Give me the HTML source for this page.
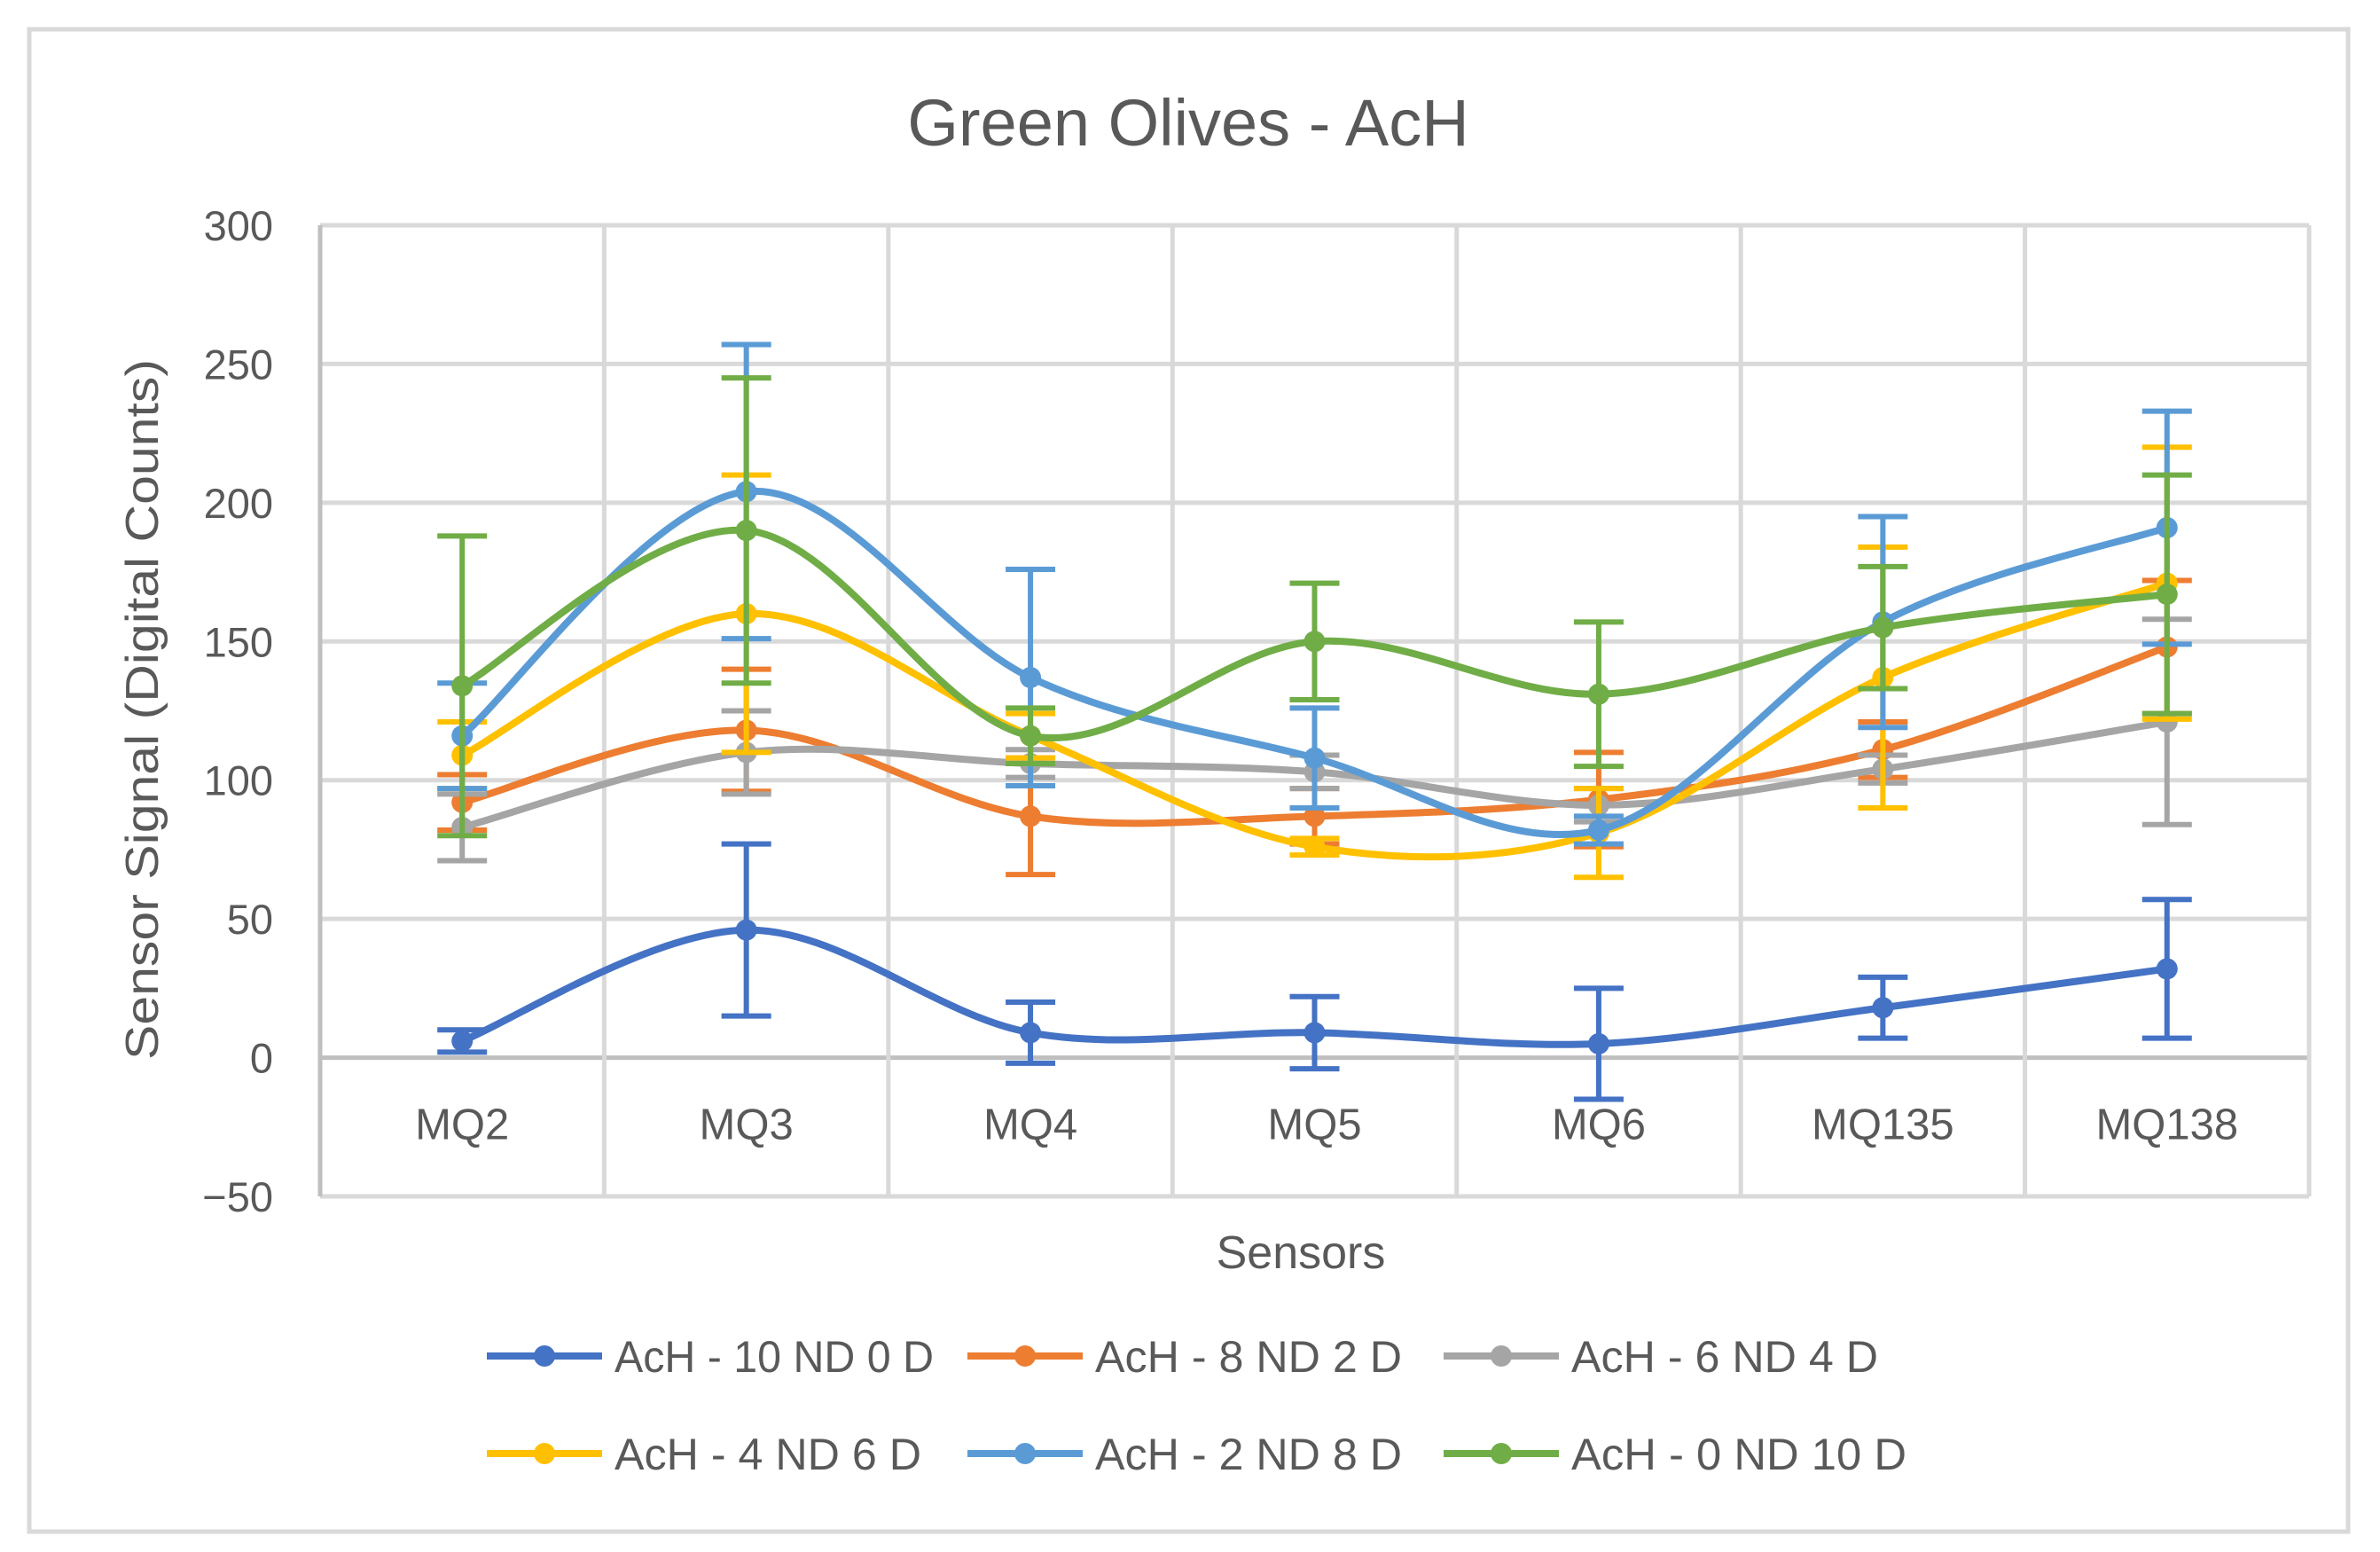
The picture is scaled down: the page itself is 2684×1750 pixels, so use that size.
<!DOCTYPE html>
<html><head><meta charset="utf-8"><style>
html,body{margin:0;padding:0;background:#fff;}
svg{display:block;font-family:"Liberation Sans",sans-serif;}
</style></head><body>
<svg id="chart" width="2684" height="1750" viewBox="0 0 2684 1750">
<rect x="33" y="33" width="2615" height="1694" fill="#fff" stroke="#d9d9d9" stroke-width="5"/>
<text x="1340" y="164" text-anchor="middle" font-size="74" fill="#595959">Green Olives - AcH</text>
<g id="grid"></g>
<g id="series"></g>
<text x="1467" y="1430" text-anchor="middle" font-size="52" fill="#595959">Sensors</text>
<text transform="translate(178,800) rotate(-90)" text-anchor="middle" font-size="52" fill="#595959" textLength="790" lengthAdjust="spacingAndGlyphs">Sensor Signal (Digital Counts)</text>
<g id="legend"></g>
</svg>
<script>
const categories=["MQ2","MQ3","MQ4","MQ5","MQ6","MQ135","MQ138"];
const yTicks=[-50,0,50,100,150,200,250,300];
const seriesNames=["AcH - 10 ND 0 D","AcH - 8 ND 2 D","AcH - 6 ND 4 D","AcH - 4 ND 6 D","AcH - 2 ND 8 D","AcH - 0 ND 10 D"];
const seriesColors=["#4472c4","#ed7d31","#a5a5a5","#ffc000","#5b9bd5","#70ad47"];
const s1=[6,46,9,9,5,18,32];
const s2=[92,118,87,87,93,111,148];
const s3=[83,110,106,103,91,104,121];
const s4=[109,160,116,76,81,137,171];
const s5=[116,204,137,108,82,157,191];
const s6=[134,190,116,150,131,155,167];
const e1=[4,31,11,13,20,11,25];
const e2=[10,22,21,10,17,10,24];
const e3=[12,15,5,6,6,5,37];
const e4=[12,50,8,3,16,47,49];
const e5=[19,53,39,18,5,38,42];
const e6=[54,55,10,21,26,22,43];
const seriesVals=[s1,s2,s3,s4,s5,s6];
const seriesErr=[e1,e2,e3,e4,e5,e6];

const NS="http://www.w3.org/2000/svg";
const L=361,R=2604,T=254,B=1349,yMin=-50,yMax=300;
const bw=(R-L)/categories.length;
function xs(i){return L+bw*(i+0.5);}
function ys(v){return B-(v-yMin)/(yMax-yMin)*(B-T);}
function mk(tag,attrs,parent){const e=document.createElementNS(NS,tag);for(const k in attrs)e.setAttribute(k,attrs[k]);parent.appendChild(e);return e;}
const grid=document.getElementById('grid'),ser=document.getElementById('series'),leg=document.getElementById('legend');
yTicks.forEach(t=>{
 const y=ys(t);
 const ln=mk('line',{x1:L,x2:R,y1:y,y2:y,stroke:t===0?'#bfbfbf':'#d9d9d9','stroke-width':5},grid);
 
 
 const tx=mk('text',{x:308,y:y+17,'text-anchor':'end','font-size':47,fill:'#595959'},grid);
 tx.textContent=(t<0?'\u2212'+(-t):t);
 
 
});
for(let i=0;i<=categories.length;i++){
 const x=L+bw*i;
 const ln=mk('line',{x1:x,x2:x,y1:T,y2:B,stroke:i===0?'#bfbfbf':'#d9d9d9','stroke-width':5},grid);
 
 
}
categories.forEach((c,i)=>{
 const tx=mk('text',{x:xs(i),y:ys(0)+92,'text-anchor':'middle','font-size':49,fill:'#595959'},grid);
 tx.textContent=c;
 
 
});
function smoothPath(pts){
 let d='M'+pts[0][0]+','+pts[0][1];
 for(let i=0;i<pts.length-1;i++){
  const p0=pts[i-1]||pts[i],p1=pts[i],p2=pts[i+1],p3=pts[i+2]||pts[i+1];
  const t=1/6;
  const c1=[p1[0]+(p2[0]-p0[0])*t,p1[1]+(p2[1]-p0[1])*t];
  const c2=[p2[0]-(p3[0]-p1[0])*t,p2[1]-(p3[1]-p1[1])*t];
  d+=' C'+c1+' '+c2+' '+p2;
 }
 return d;
}
seriesVals.forEach((vals,s)=>{
 const g=mk('g',{},ser);
 
 
 const col=seriesColors[s];
 vals.forEach((v,i)=>{
  const e=seriesErr[s][i],x=xs(i),y1=ys(v+e),y2=ys(v-e);
  const eb=mk('path',{d:`M${x},${y1}V${y2}M${x-28},${y1}H${x+28}M${x-28},${y2}H${x+28}`,stroke:col,'stroke-width':6,fill:'none'},g);
  
  
 });
 const pts=vals.map((v,i)=>[xs(i),ys(v)]);
 const p=mk('path',{d:smoothPath(pts),stroke:col,'stroke-width':8,fill:'none','stroke-linecap':'round'},g);
 
 
 pts.forEach(q=>{
  const c=mk('circle',{cx:q[0],cy:q[1],r:12,fill:col},g);
  
  
 });
});
const legX=[549,1091,1628],legY=[1529,1639],legW=[360,346,346,346,346,378];
seriesNames.forEach((n,s)=>{
 const x=legX[s%3],y=legY[Math.floor(s/3)];
 const g=mk('g',{},leg);
 
 
 mk('line',{x1:x,x2:x+130,y1:y,y2:y,stroke:seriesColors[s],'stroke-width':8},g);
 mk('circle',{cx:x+65,cy:y,r:12,fill:seriesColors[s]},g);
 const t=mk('text',{x:x+144,y:y+18,'font-size':50,fill:'#595959',textLength:legW[s],lengthAdjust:'spacingAndGlyphs'},g);
 t.textContent=n;
});
</script>
</body></html>
